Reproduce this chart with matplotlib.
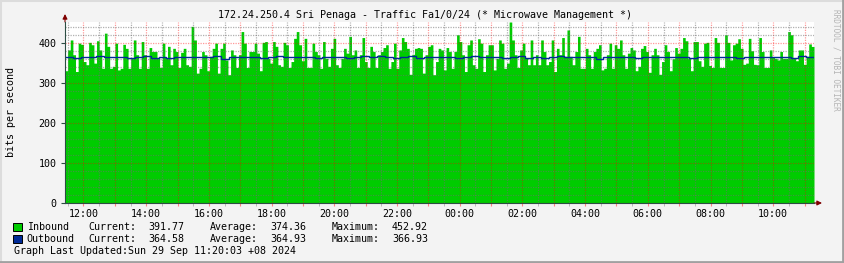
import matplotlib
matplotlib.use("Agg")
import matplotlib.pyplot as plt
import numpy as np
from matplotlib.ticker import MultipleLocator, FuncFormatter
from matplotlib.lines import Line2D
from matplotlib.patches import Rectangle

W, H = 845, 263

# inbound traffic, 5 min samples (bits per second)
inbound = [
    331, 383, 408, 371, 329, 400, 397, 354, 346, 402, 396, 350, 406, 383, 337, 425,
    392, 337, 342, 400, 333, 337, 397, 387, 337, 362, 408, 371, 337, 404, 371, 337,
    389, 379, 379, 362, 339, 400, 364, 392, 346, 387, 379, 339, 377, 387, 346, 342,
    442, 408, 325, 337, 379, 371, 331, 367, 387, 400, 325, 387, 400, 358, 321,
    383, 371, 339, 371, 429, 400, 339, 379, 379, 400, 375, 331, 402, 404, 362, 350,
    404, 392, 346, 342, 402, 396, 339, 354, 412, 429, 396, 356, 412, 339, 339, 400,
    379, 371, 337, 404, 362, 342, 387, 412, 346, 339, 362, 387, 375, 417, 371, 383,
    339, 371, 414, 354, 339, 392, 379, 339, 371, 379, 389, 396, 337, 354, 400, 337,
    383, 414, 404, 387, 322, 372, 387, 389,
    387, 325, 371, 392, 396, 321, 354, 387, 383, 333, 389, 379, 337, 379, 421, 404,
    371, 329, 396, 408, 346, 337, 411, 400, 329, 371, 396, 396, 333, 362, 408, 400,
    337, 350, 452.92, 408, 371, 339, 383, 400, 362, 346, 408, 346, 371, 346, 408, 379,
    346, 354, 408, 329, 387, 371, 414, 367, 433, 367, 346, 379, 417, 337, 337, 387,
    371, 337, 379, 387, 396, 333, 337, 371, 400, 337, 396,
    387, 408, 371, 337, 375, 389, 383, 331, 342, 387, 394, 379, 327, 371, 387, 371,
    322, 354, 396, 379, 331, 361, 389, 375, 387, 414, 406, 362, 331, 404, 404, 356,
    342, 400, 402, 344, 339, 414, 402, 339, 339, 421, 402, 358, 396, 400, 411, 387,
    347, 350, 412, 381, 347, 346, 414, 379, 339, 339, 383, 364, 362, 358, 379, 362,
    362, 429, 421, 362, 356, 383, 383, 347, 367, 398, 391.77,
]

# outbound traffic, 15 min samples
outbound = [
    365, 362, 364.5, 365, 367, 365, 365, 365, 362, 365, 367, 362.5, 365, 362, 365, 365,
    365, 365, 365, 367, 360.5, 365, 365, 365, 365, 362, 365, 367, 365, 365, 365, 365,
    362, 366, 365, 365, 362, 365, 367, 365, 366.9, 365, 362, 365, 367, 362, 365, 365,
    365, 365, 362, 365, 367, 365, 365, 365, 362, 365, 367, 362, 366.5, 362, 365, 367,
    365, 365, 365, 365, 361.5, 366.5, 365, 365, 365, 362, 366.5, 365, 365, 365, 365, 365,
    362, 365, 365, 365, 365, 365, 362, 365, 365, 365, 365, 365, 365, 362, 367, 364.58,
]

legend_rows = [
    ("Inbound", "#00CC00", "391.77", "374.36", "452.92"),
    ("Outbound", "#002A97", "364.58", "364.93", "366.93"),
]
title = "172.24.250.4 Sri Penaga - Traffic Fa1/0/24 (* Microwave Management *)"
updated = "Graph Last Updated:Sun 29 Sep 11:20:03 +08 2024"

# time axis in hours after 12:00 of the first day
t0, t1 = -0.59, 23.30

mono = "DejaVu Sans Mono"
fs = 7.2
plt.rcParams["font.family"] = mono

fig = plt.figure(figsize=(W / 100, H / 100), dpi=100)
fig.patch.set_facecolor("#F3F3F3")


def fx(x):
    return x / W


def fy(y):
    return 1 - y / H


ax = fig.add_axes([fx(65), fy(203), fx(814) - fx(65), fy(22) - fy(203)])
ax.set_facecolor("white")

tin = np.linspace(t0, t1, len(inbound) + 1)
ax.fill_between(tin, np.append(inbound, inbound[-1]), 0, step="post",
                color="#00CC00", linewidth=0, zorder=1)
tout = np.linspace(t0, t1, len(outbound) + 1)
ax.step(tout, np.append(outbound, outbound[-1]), where="post",
        color="#002A97", linewidth=1.0, zorder=6, solid_joinstyle="miter")

ax.set_xlim(t0, t1)
ax.set_ylim(0, 452.92)

ax.xaxis.set_major_locator(MultipleLocator(1))
ax.xaxis.set_minor_locator(MultipleLocator(0.5))
ax.yaxis.set_major_locator(MultipleLocator(100))
ax.yaxis.set_minor_locator(MultipleLocator(20))


def hour_label(v, pos):
    h = int(round(v))
    if h % 2:
        return ""
    return "%02d:00" % ((12 + h) % 24)


ax.xaxis.set_major_formatter(FuncFormatter(hour_label))
ax.yaxis.set_major_formatter(FuncFormatter(lambda v, p: "%d" % v))

ax.set_axisbelow(False)
ax.grid(which="minor", color="#707070", alpha=0.55, linewidth=0.9,
        linestyle=(0, (1, 1)), zorder=2)
ax.grid(which="major", color="#FF0000", alpha=0.4, linewidth=0.9,
        linestyle=(0, (1, 1)), zorder=3)

for s in ["top", "right"]:
    ax.spines[s].set_visible(False)
for s in ["left", "bottom"]:
    ax.spines[s].set_color("#2C4D43")
    ax.spines[s].set_linewidth(0.8)
    ax.spines[s].set_zorder(7)

ax.tick_params(which="both", labelsize=fs, colors="#2C4D43", labelcolor="black")
ax.tick_params(axis="x", which="major", length=2, pad=2, color="#FF8080")
ax.tick_params(axis="x", which="minor", length=2, color="#B0B0B0")
ax.tick_params(axis="y", which="major", length=3, pad=3)
ax.tick_params(axis="y", which="minor", length=0)

# arrows at the axis ends
ax.annotate("", xy=(fx(822), fy(203)), xytext=(fx(814), fy(203)),
            xycoords="figure fraction",
            arrowprops=dict(arrowstyle="-|>", color="#7F0000", lw=0.8,
                            mutation_scale=7, shrinkA=0, shrinkB=0))
ax.annotate("", xy=(fx(65), fy(14)), xytext=(fx(65), fy(22)),
            xycoords="figure fraction",
            arrowprops=dict(arrowstyle="-|>", color="#7F0000", lw=0.8,
                            mutation_scale=7, shrinkA=0, shrinkB=0))

fig.text(fx(424.5), fy(15.5), title, fontsize=fs, ha="center", va="center")
fig.text(fx(11), fy(112), "bits per second", fontsize=fs, rotation=90,
         ha="center", va="center")
fig.text(fx(836), fy(60), "RRDTOOL / TOBI OETIKER", fontsize=5.6, rotation=270,
         ha="center", va="center", color="#B4B4B4")

for i, (name, col, cur, avg, mx) in enumerate(legend_rows):
    yc = 226.7 + 12 * i
    fig.patches.append(Rectangle((fx(13.5), fy(yc + 4)), 8 / W, 8 / H,
                                 transform=fig.transFigure, facecolor=col,
                                 edgecolor="black", linewidth=0.7))
    for x, s in [(26.7, name), (88, "Current:"), (148, cur), (210, "Average:"),
                 (270, avg), (332, "Maximum:"), (392, mx)]:
        fig.text(fx(x), fy(yc), s, fontsize=fs, ha="left", va="center")

fig.text(fx(14), fy(251), updated, fontsize=fs, ha="left", va="center")

# 3d frame around the canvas
fig.lines.append(Line2D([0, 1], [1 - 1 / H, 1 - 1 / H], transform=fig.transFigure,
                        color="#DCDCDC", linewidth=1.5))
fig.lines.append(Line2D([1 / W, 1 / W], [0, 1], transform=fig.transFigure,
                        color="#DCDCDC", linewidth=1.5))
fig.lines.append(Line2D([0, 1], [1.5 / H, 1.5 / H], transform=fig.transFigure,
                        color="#A0A0A0", linewidth=2))
fig.lines.append(Line2D([1 - 1.5 / W, 1 - 1.5 / W], [0, 1], transform=fig.transFigure,
                        color="#A0A0A0", linewidth=2))

fig.savefig("out.png", dpi=100)
